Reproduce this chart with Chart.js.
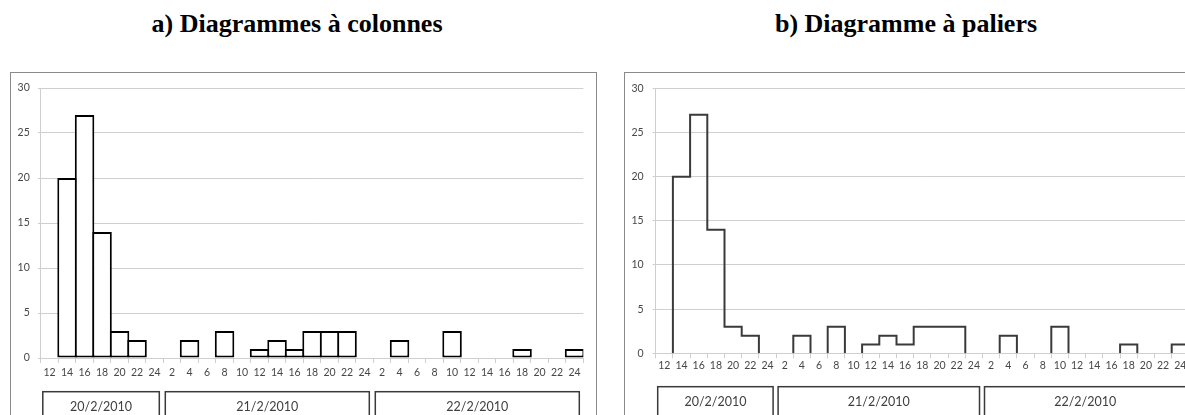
<!DOCTYPE html>
<html>
<head>
<meta charset="utf-8">
<script src="https://cdn.jsdelivr.net/npm/chart.js@4"></script>
<style>
  html, body { margin: 0; padding: 0; background: #fff; width: 1185px; height: 415px; overflow: hidden; }
  .title { position: absolute; width: 420px; text-align: center; font: bold 26px "Liberation Serif", "Times New Roman", serif; line-height: 30px; color: #000; }
  .frame { position: absolute; border: 1px solid #8a8a8a; box-sizing: border-box; }
  canvas { position: absolute; }
</style>
</head>
<body>
<div class="title" style="left:87px; top:9px;">a) Diagrammes à colonnes</div>
<div class="title" style="left:696px; top:9px;">b) Diagramme à paliers</div>
<div class="frame" style="left:10px; top:72px; width:587px; height:380px;"></div>
<div class="frame" style="left:624px; top:72px; width:600px; height:380px;"></div>
<canvas id="colonnes" width="584" height="360" style="left:11px; top:73px;"></canvas>
<canvas id="paliers" width="600" height="360" style="left:625px; top:73px;"></canvas>
<script>
// Hour labels (end of each 2-hour interval), three consecutive days
const hours = [
  '12','14','16','18','20','22','24',
  '2','4','6','8','10','12','14','16','18','20','22','24',
  '2','4','6','8','10','12','14','16','18','20','22','24'
];
// Number of events per 2-hour interval
const counts = [
  0, 20, 27, 14, 3, 2, 0,
  0, 2, 0, 3, 0, 1, 2, 1, 3, 3, 3, 0,
  0, 2, 0, 0, 3, 0, 0, 0, 1, 0, 0, 1
];
// Day groups under the hour axis
const days = ['20/2/2010', '21/2/2010', '22/2/2010'];
const daySpans = [7, 12, 12];
const yTicks = [0, 5, 10, 15, 20, 25, 30];

const tickFont = { family: 'Lato, "Open Sans", sans-serif', size: 10.5 };
const tickColor = '#474747';
const gridColor = '#cfcfcf';

// Boxed day labels drawn below the hour labels
function dayBoxes(top, insetL, insetR) {
  return {
    id: 'dayBoxes',
    afterDraw(chart) {
      const xs = chart.scales.x;
      const ctx = chart.ctx;
      const w = xs.width / hours.length;
      let start = 0;
      ctx.save();
      ctx.strokeStyle = '#3a3a3a';
      ctx.lineWidth = 1.5;
      ctx.fillStyle = '#404040';
      ctx.font = '12.5px Lato, "Open Sans", sans-serif';
      ctx.textAlign = 'center';
      ctx.textBaseline = 'middle';
      days.forEach((d, i) => {
        const left = xs.getPixelForValue(start) - w / 2 + insetL;
        const right = xs.getPixelForValue(start + daySpans[i] - 1) + w / 2 - insetR;
        const y = xs.bottom - xs.height + top;
        ctx.strokeRect(left, y, right - left, 60);
        ctx.fillText(d, (left + right) / 2, y + 15.5);
        start += daySpans[i];
      });
      ctx.restore();
    }
  };
}

function yScale(width, pad) {
  return {
    min: 0, max: 30,
    afterBuildTicks(s) { s.ticks = yTicks.map(v => ({ value: v })); },
    afterFit(s) { s.width = width; },
    grid: { color: gridColor, lineWidth: 1, tickLength: 3 },
    border: { color: gridColor },
    ticks: { font: tickFont, color: tickColor, padding: pad }
  };
}

function xScale(height, pad) {
  return {
    type: 'category',
    labels: hours,
    offset: true,
    afterFit(s) { s.height = height; },
    grid: { offset: true, drawOnChartArea: false, tickLength: 5, color: gridColor },
    border: { color: gridColor },
    ticks: { font: tickFont, color: tickColor, padding: pad, maxRotation: 0, autoSkip: false }
  };
}

// a) column chart
new Chart(document.getElementById('colonnes'), {
  type: 'bar',
  data: {
    labels: hours,
    datasets: [{
      data: counts,
      backgroundColor: '#ffffff',
      borderColor: '#000000',
      borderWidth: 2,
      borderSkipped: false,
      categoryPercentage: 1,
      barPercentage: 1.115
    }]
  },
  options: {
    responsive: false,
    animation: false,
    layout: { padding: { top: 15, right: 11.7, left: 0, bottom: 0 } },
    plugins: { legend: { display: false }, tooltip: { enabled: false } },
    scales: { x: xScale(75, 3), y: yScale(29.8, 8) }
  },
  plugins: [dayBoxes(33.7, 2, 4)]
});

// b) step chart: outline of each non-empty run of intervals
function stepOutline(vals) {
  const pts = [];
  let i = 0;
  while (i < vals.length) {
    if (vals[i] === 0) { i++; continue; }
    const s = i;
    while (i < vals.length && vals[i] !== 0) i++;
    pts.push({ x: s, y: 0 });
    pts.push({ x: s, y: vals[s] });
    for (let k = s + 1; k < i; k++) pts.push({ x: k, y: vals[k] });
    pts.push({ x: i, y: vals[i - 1] });
    pts.push({ x: i, y: 0 });
    pts.push({ x: i, y: null });
  }
  return pts;
}

new Chart(document.getElementById('paliers'), {
  type: 'line',
  data: {
    datasets: [{
      data: stepOutline(counts),
      xAxisID: 'xs',
      stepped: 'before',
      borderColor: '#3a3a3a',
      borderWidth: 2,
      pointRadius: 0,
      fill: false,
      spanGaps: false
    }]
  },
  options: {
    responsive: false,
    animation: false,
    layout: { padding: { top: 14.3, right: 36.1, left: 0, bottom: 0 } },
    plugins: { legend: { display: false }, tooltip: { enabled: false } },
    scales: {
      x: xScale(79.7, 1),
      xs: { type: 'linear', min: 0, max: hours.length, display: false },
      y: yScale(30.7, 9)
    }
  },
  plugins: [dayBoxes(33.4, 2, 3)]
});
</script>
</body>
</html>
